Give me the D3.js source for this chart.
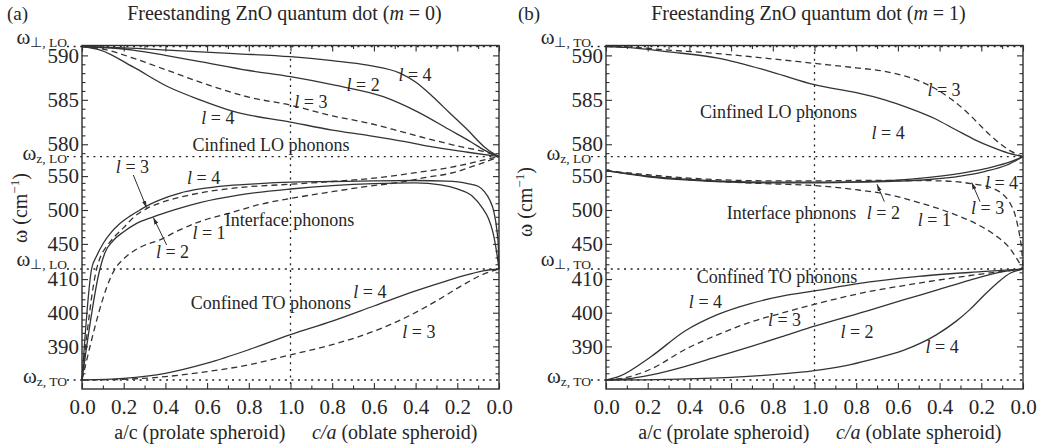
<!DOCTYPE html>
<html>
<head>
<meta charset="utf-8">
<script src="https://cdn.jsdelivr.net/npm/d3@7"></script>
<style>
  body { margin: 0; background: #fff; }
  svg { display: block; }
  text { font-family: "Liberation Serif", "Times New Roman", serif; fill: #262626; }
</style>
</head>
<body>
<svg id="chart" width="1038" height="447"></svg>
<script>
// ---------- axis data ----------
// x runs 0..2: 0..1 is a/c (prolate), 1..2 is 2 - c/a (oblate)
const xTickValues = [0, 0.2, 0.4, 0.6, 0.8, 1.0, 1.2, 1.4, 1.6, 1.8, 2.0];
const xTickLabels = ["0.0", "0.2", "0.4", "0.6", "0.8", "1.0", "0.8", "0.6", "0.4", "0.2", "0.0"];
const xMinorTicks = [0.1, 0.3, 0.5, 0.7, 0.9, 1.1, 1.3, 1.5, 1.7, 1.9];

// characteristic frequencies (cm^-1): omega_z,TO, omega_perp,TO, omega_z,LO, omega_perp,LO
const levels = [380, 413, 578.6, 591];
const yTickValues = [390, 400, 410, 450, 500, 550, 580, 585, 590];
const yMinorTicks = [382, 384, 386, 388, 392, 394, 396, 398, 402, 404, 406, 408, 412,
                     420, 430, 440, 460, 470, 480, 490, 510, 520, 530, 540, 560, 570,
                     579, 581, 582, 583, 584, 586, 587, 588, 589];

const levelNamesA = ["z, TO", "\u22a5, LO", "z, LO", "\u22a5, LO"];
const levelNamesB = ["z, TO", "\u22a5, TO", "z, LO", "\u22a5, TO"];

// ---------- panel (a): m = 0 ----------
const aLO4upper = [[0,591],[0.2,590.85],[0.41,590.6],[0.73,590.2],[1.0,589.85],[1.2,589.4],[1.37,588.9],[1.525,588.0],[1.6,587.0],[1.68,585.4],[1.76,583.6],[1.85,581.6],[1.93,579.7],[1.97,579.0],[2.0,578.6]];
const aLO2 = [[0,591],[0.245,590.6],[0.4,590.0],[0.566,589.3],[0.8,588.3],[1.0,587.6],[1.2,586.7],[1.445,585.35],[1.605,583.7],[1.765,581.6],[1.87,580.2],[1.925,579.4],[2.0,578.6]];
const aLO3 = [[0,591],[0.1,590.7],[0.245,589.7],[0.4,588.4],[0.566,587.0],[0.8,585.3],[1.0,584.4],[1.2,583.2],[1.37,582.4],[1.55,581.3],[1.68,580.5],[1.82,579.7],[1.925,579.2],[2.0,578.6]];
const aLO4lower = [[0,591],[0.088,590.6],[0.245,588.7],[0.41,586.5],[0.566,585.0],[0.726,583.7],[1.0,582.5],[1.2,581.6],[1.37,581.0],[1.55,580.3],[1.68,579.7],[1.85,579.1],[2.0,578.6]];

const aIF4 = [[0,380],[0.046,413],[0.07,432],[0.102,451],[0.14,467],[0.182,480],[0.23,491],[0.278,500],[0.33,509],[0.374,515],[0.47,525],[0.566,531],[0.7,536],[0.85,539],[1.0,541],[1.2,542],[1.4,543],[1.6,543.5],[1.75,542.5],[1.85,539],[1.9,535],[1.93,527],[1.955,515],[1.975,498],[1.99,470],[1.997,445],[2.0,413]];
const aIF3 = [[0,380],[0.07,413],[0.09,432],[0.12,447],[0.16,462],[0.2,474],[0.25,490],[0.31,502],[0.4,513],[0.5,521],[0.6,527],[0.75,533],[1.0,538],[1.2,542],[1.4,547],[1.6,555],[1.75,562],[1.85,568],[1.93,574],[2.0,578.6]];
const aIF2 = [[0,380],[0.086,413],[0.11,437],[0.15,455],[0.2,468],[0.26,480],[0.342,490],[0.45,501],[0.566,511],[0.75,522],[1.0,531],[1.2,536],[1.4,539],[1.6,540],[1.72,537],[1.8,531],[1.87,521],[1.92,503],[1.95,487],[1.97,468],[1.985,445],[2.0,413]];
const aIF1 = [[0,380],[0.158,413],[0.2,428],[0.25,440],[0.3,448],[0.374,456],[0.45,468],[0.566,483],[0.726,497],[0.85,508],[1.0,517],[1.2,527],[1.35,534],[1.525,541],[1.65,548],[1.78,555],[1.88,565],[1.94,571.5],[2.0,578.6]];

const aTO4 = [[0,380],[0.2,380.5],[0.4,382],[0.6,385],[0.8,389],[1.0,393.5],[1.2,397.5],[1.4,402],[1.6,406.5],[1.75,409.5],[1.85,411.3],[1.93,412.5],[2.0,413]];
const aTO3 = [[0,380],[0.2,380.2],[0.4,381],[0.6,382.5],[0.8,384.5],[1.0,387.5],[1.2,390.5],[1.4,394.5],[1.55,398.5],[1.7,403.5],[1.82,408],[1.92,411.3],[2.0,413]];

// ---------- panel (b): m = 1 ----------
const bLO3 = [[0,591],[0.1,590.95],[0.3,590.6],[0.537,590.2],[0.8,589.6],[1.0,589.1],[1.2,588.6],[1.337,588.2],[1.47,587.4],[1.576,586.3],[1.66,585],[1.736,583.5],[1.8,582],[1.848,580.9],[1.9,579.9],[1.944,579.2],[2.0,578.6]];
const bLO4 = [[0,591],[0.1,590.9],[0.3,590.4],[0.537,589.7],[0.8,588.1],[1.0,586.7],[1.2,585.8],[1.337,585.0],[1.45,584.1],[1.576,582.9],[1.68,581.6],[1.77,580.5],[1.848,579.7],[1.93,579.0],[2.0,578.6]];

const bIF4 = [[0,558],[0.2,550],[0.4,545],[0.6,542],[0.8,541],[1.0,541],[1.2,541.5],[1.4,544],[1.55,548],[1.7,554],[1.82,561],[1.92,569],[2.0,578.6]];
const bIF2 = [[0,558],[0.2,549],[0.4,544],[0.6,541],[0.8,540],[1.0,540],[1.2,541],[1.4,542.5],[1.55,545],[1.7,550],[1.82,557],[1.92,566],[2.0,578.6]];
const bIF3 = [[0,558],[0.2,552],[0.4,547],[0.6,544],[0.8,543],[1.0,543],[1.2,543.5],[1.4,543.5],[1.6,543],[1.75,539],[1.856,532],[1.9,524],[1.938,510],[1.96,495],[1.976,475],[1.988,455],[1.994,441],[2.0,413]];
const bIF1 = [[0,558],[0.2,550],[0.4,545],[0.6,541],[0.8,538.5],[1.0,536],[1.2,530],[1.35,523],[1.5,511],[1.65,496],[1.78,479],[1.87,462],[1.93,446],[1.975,426],[2.0,413]];

const bTO4upper = [[0,380],[0.06,381],[0.217,387],[0.377,394.5],[0.537,399.5],[0.697,402.8],[0.85,405],[1.0,406.5],[1.2,408.6],[1.5,410.8],[1.8,412.2],[2.0,413]];
const bTO3 = [[0,380],[0.1,380.8],[0.217,383.3],[0.377,389],[0.537,393.5],[0.697,397.3],[0.85,400],[1.0,402.5],[1.2,405.5],[1.5,408.8],[1.8,411.5],[2.0,413]];
const bTO2 = [[0,380],[0.1,380.3],[0.217,381.5],[0.377,384],[0.537,387],[0.697,390],[0.85,393],[1.0,396],[1.266,400.8],[1.426,403.8],[1.586,406.7],[1.746,409.7],[1.906,412.2],[2.0,413]];
const bTO4lower = [[0,380],[0.3,380.2],[0.6,380.8],[0.8,381.6],[1.0,382.8],[1.15,384.3],[1.266,386],[1.426,388.8],[1.586,393.5],[1.68,397.5],[1.746,401],[1.81,405],[1.874,408.7],[1.94,411.8],[2.0,413]];

// annotation anchors in data coordinates: [x, omega, text, italic-l?]
const notesA = [
  [1.597, 587.8, "4", true], [1.348, 586.67, "2", true], [1.098, 584.76, "3", true], [0.652, 582.96, "4", true],
  [0.906, 579.92, "Cinfined LO phonons", false],
  [0.242, 563.9, "3", true], [0.583, 546.8, "4", true], [0.995, 485.3, "Interface phonons", false],
  [0.609, 465.7, "1", true], [0.434, 438.5, "2", true],
  [0.906, 402.8, "Confined TO phonons", false], [1.381, 406.2, "4", true], [1.616, 394.4, "3", true]
];
const arrowsA = [[0.246, 551.6, 0.31, 503.5], [0.406, 448.4, 0.342, 489]];

const notesB = [
  [1.621, 586.1, "3", true], [1.353, 581.27, "4", true], [0.827, 583.66, "Cinfined LO phonons", false],
  [0.89, 495.2, "Interface phonons", false], [1.33, 495.2, "2", true], [1.575, 485.3, "1", true],
  [1.897, 539.4, "4", true], [1.83, 502.5, "3", true],
  [0.82, 410.7, "Confined TO phonons", false], [0.477, 403.3, "4", true], [0.856, 397.8, "3", true],
  [1.204, 394.4, "2", true], [1.612, 389.9, "4", true]
];
const arrowsB = [[1.335, 512.3, 1.3, 538], [1.794, 512.3, 1.754, 540.5]];

// ---------- layout ----------
const frameTop = 45.5, frameBottom = 389, panelWidth = 417;
const levelPx = [380, 269, 156.7, 46.5];

const panels = [
  { left: 82, tag: "(a)", tagX: 7, m: "0", names: levelNamesA, notes: notesA, arrows: arrowsA, yTitleX: 27, yTitleY: 208,
    series: [[aLO4upper, false], [aLO2, false], [aLO3, true], [aLO4lower, false],
             [aIF4, false], [aIF3, true], [aIF2, false], [aIF1, true],
             [aTO4, false], [aTO3, true]] },
  { left: 606, tag: "(b)", tagX: 518, m: "1", names: levelNamesB, notes: notesB, arrows: arrowsB, yTitleX: 532, yTitleY: 202,
    series: [[bLO3, true], [bLO4, false],
             [bIF4, false], [bIF2, false], [bIF3, true], [bIF1, true],
             [bTO4upper, false], [bTO3, true], [bTO2, false], [bTO4lower, false]] }
];

const svg = d3.select("#chart");
const ink = "#2e2e2e";

svg.append("defs").append("marker")
  .attr("id", "head").attr("viewBox", "0 0 10 6").attr("refX", 10).attr("refY", 3)
  .attr("markerWidth", 7).attr("markerHeight", 4.5).attr("markerUnits", "userSpaceOnUse")
  .attr("orient", "auto")
  .append("path").attr("d", "M0,0L10,3L0,6Z").attr("fill", ink);

function styleAxis(sel) {
  sel.attr("font-family", null).attr("font-size", null);
  sel.select(".domain").remove();
  sel.selectAll(".tick line").attr("stroke", ink).attr("stroke-width", 1.1);
  sel.selectAll(".tick text").attr("font-size", 21).attr("fill", "#262626");
}

panels.forEach(p => {
  const g = svg.append("g");
  const x = d3.scaleLinear().domain([0, 2]).range([p.left, p.left + panelWidth]);
  const y = d3.scaleLinear().domain(levels).range(levelPx);
  const right = p.left + panelWidth;

  // dotted reference levels and the sphere line at x = 1
  levels.forEach(v => {
    g.append("line").attr("x1", p.left - 15).attr("x2", right)
      .attr("y1", y(v)).attr("y2", y(v))
      .attr("stroke", "#222").attr("stroke-width", 1.3).attr("stroke-dasharray", "2,4.6");
  });
  g.append("line").attr("x1", x(1)).attr("x2", x(1)).attr("y1", frameTop).attr("y2", frameBottom)
    .attr("stroke", "#222").attr("stroke-width", 1.3).attr("stroke-dasharray", "2,4.6");

  // level names: omega with subscript; perpendicular ones sit on the line, z ones straddle it
  levels.forEach((v, i) => {
    const perp = p.names[i].startsWith("\u22a5");
    const t = g.append("text").attr("x", p.left - 15).attr("y", y(v) + (perp ? -3 : 3)).attr("text-anchor", "end");
    t.append("tspan").attr("font-size", 21).text("\u03c9");
    t.append("tspan").attr("font-size", 13.5).attr("dy", 3).text(p.names[i]);
  });

  // mode curves
  const line = d3.line().x(d => x(d[0])).y(d => y(d[1])).curve(d3.curveMonotoneX);
  p.series.forEach(([vals, dashed]) => {
    g.append("path").attr("d", line(vals)).attr("fill", "none")
      .attr("stroke", "#333").attr("stroke-width", 1.3)
      .attr("stroke-dasharray", dashed ? "6,4" : null);
  });

  // frame
  g.append("rect").attr("x", p.left).attr("y", frameTop)
    .attr("width", panelWidth).attr("height", frameBottom - frameTop)
    .attr("fill", "none").attr("stroke", ink).attr("stroke-width", 1.4);

  // ticks
  g.append("g").attr("transform", `translate(0,${frameBottom})`)
    .call(d3.axisBottom(x).tickValues(xTickValues).tickFormat((d, i) => xTickLabels[i])
      .tickSizeInner(-6).tickSizeOuter(0).tickPadding(10))
    .call(styleAxis);
  g.append("g").attr("transform", `translate(0,${frameBottom})`)
    .call(d3.axisBottom(x).tickValues(xMinorTicks).tickFormat("").tickSizeInner(-3.5).tickSizeOuter(0))
    .call(styleAxis);
  g.append("g").attr("transform", `translate(0,${frameTop})`)
    .call(d3.axisTop(x).tickValues(xTickValues).tickFormat("").tickSizeInner(-6).tickSizeOuter(0))
    .call(styleAxis);
  g.append("g").attr("transform", `translate(0,${frameTop})`)
    .call(d3.axisTop(x).tickValues(xMinorTicks).tickFormat("").tickSizeInner(-3.5).tickSizeOuter(0))
    .call(styleAxis);
  g.append("g").attr("transform", `translate(${p.left},0)`)
    .call(d3.axisLeft(y).tickValues(yTickValues).tickFormat(d3.format("d"))
      .tickSizeInner(-6).tickSizeOuter(0).tickPadding(3))
    .call(styleAxis);
  g.append("g").attr("transform", `translate(${p.left},0)`)
    .call(d3.axisLeft(y).tickValues(yMinorTicks).tickFormat("").tickSizeInner(-3.5).tickSizeOuter(0))
    .call(styleAxis);
  g.append("g").attr("transform", `translate(${right},0)`)
    .call(d3.axisRight(y).tickValues(yTickValues).tickFormat("").tickSizeInner(-6).tickSizeOuter(0))
    .call(styleAxis);
  g.append("g").attr("transform", `translate(${right},0)`)
    .call(d3.axisRight(y).tickValues(yMinorTicks).tickFormat("").tickSizeInner(-3.5).tickSizeOuter(0))
    .call(styleAxis);

  // annotations
  p.notes.forEach(([nx, ny, txt, isL]) => {
    const t = g.append("text").attr("x", x(nx)).attr("y", y(ny))
      .attr("text-anchor", "middle").attr("dominant-baseline", "central").attr("font-size", 18);
    if (isL) {
      t.append("tspan").attr("font-style", "italic").text("l");
      t.append("tspan").text(" = " + txt);
    } else {
      t.text(txt);
    }
  });
  p.arrows.forEach(([x0, y0, x1, y1]) => {
    g.append("line").attr("x1", x(x0)).attr("y1", y(y0)).attr("x2", x(x1)).attr("y2", y(y1))
      .attr("stroke", ink).attr("stroke-width", 1).attr("marker-end", "url(#head)");
  });

  // titles
  g.append("text").attr("x", p.tagX).attr("y", 20).attr("font-size", 19).text(p.tag);
  const title = g.append("text").attr("x", x(1) - 6).attr("y", 20).attr("text-anchor", "middle").attr("font-size", 20);
  title.append("tspan").text("Freestanding ZnO quantum dot (");
  title.append("tspan").attr("font-style", "italic").text("m");
  title.append("tspan").text(" = " + p.m + ")");

  g.append("text").attr("x", x(0.565)).attr("y", 439).attr("text-anchor", "middle").attr("font-size", 20)
    .text("a/c (prolate spheroid)");
  const ob = g.append("text").attr("x", x(1.5)).attr("y", 439).attr("text-anchor", "middle").attr("font-size", 20);
  ob.append("tspan").attr("font-style", "italic").text("c/a");
  ob.append("tspan").text(" (oblate spheroid)");

  const yt = g.append("text").attr("transform", `translate(${p.yTitleX},${p.yTitleY}) rotate(-90)`)
    .attr("text-anchor", "middle").attr("font-size", 20);
  yt.append("tspan").text("\u03c9 (cm");
  yt.append("tspan").attr("font-size", 13).attr("dy", -8).text("\u22121");
  yt.append("tspan").attr("dy", 8).text(")");
});
</script>
</body>
</html>
